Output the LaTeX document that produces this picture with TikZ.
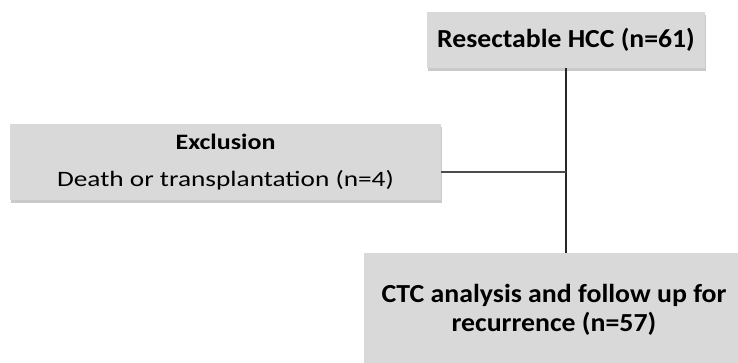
\documentclass[tikz,border=0pt]{standalone}
\usepackage{fontspec}
\setmainfont{Carlito}
\usetikzlibrary{shadows}
\definecolor{boxgray}{HTML}{D9D9D9}
\begin{document}
\begin{tikzpicture}[x=1pt,y=-1pt,
  gbox/.style={fill=boxgray, draw=none, inner sep=0pt, align=center,
    drop shadow={shadow xshift=1pt, shadow yshift=-2.5pt, opacity=0.35, fill=black!60}},
  link/.style={draw=black!85, line width=1.4pt}]
\useasboundingbox (0,0) rectangle (738,362);
\node[gbox, minimum width=278pt, minimum height=56pt, font=\bfseries\fontsize{26}{30}\selectfont] (hcc) at (566,40)
  {\scalebox{1.065}[1]{Resectable HCC (n=61)}};
\node[gbox, minimum width=431pt, minimum height=76pt, font=\fontsize{22}{37}\selectfont] (excl) at (225.5,162)
  {\scalebox{1.18}[1]{\bfseries Exclusion}\\\scalebox{1.24}[1]{Death or transplantation (n=4)}};
\node[gbox, minimum width=380pt, minimum height=114pt, font=\bfseries\fontsize{26}{28.5}\selectfont] (ctc) at (554,310)
  {\scalebox{1.07}[1]{CTC analysis and follow up for}\\\scalebox{1.07}[1]{recurrence (n=57)}};
\coordinate (e) at ([yshift=-10pt]excl.east);
\coordinate (j) at (hcc.south |- e);
\draw[link] (hcc.south) -- (hcc.south |- ctc.north);
\draw[link, draw=black!70] (e) -- (j);
\end{tikzpicture}
\end{document}
